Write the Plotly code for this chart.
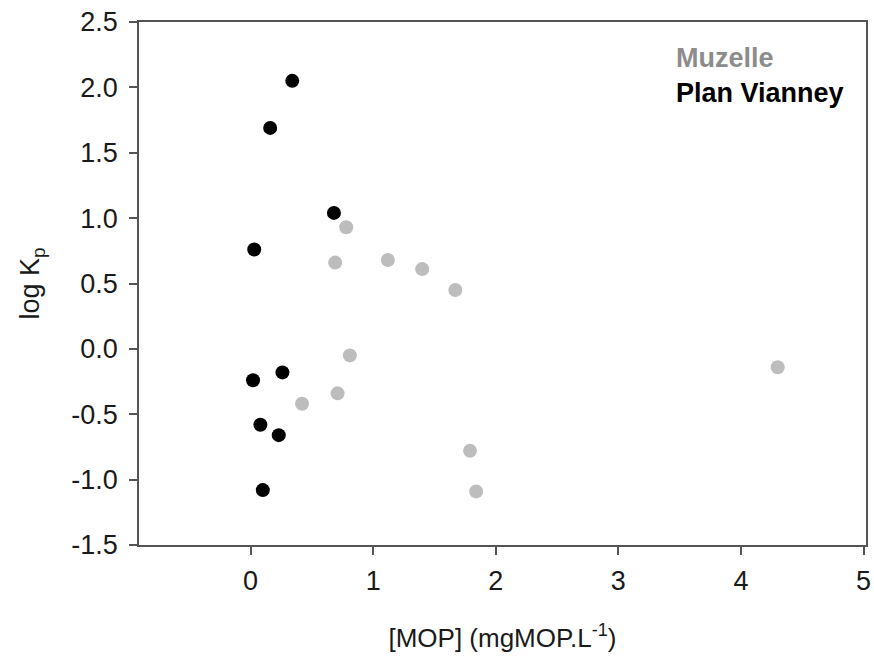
import plotly.graph_objects as go

# Plan Vianney (black)
pv_x = [0.34, 0.16, 0.68, 0.03, 0.26, 0.02, 0.08, 0.23, 0.10]
pv_y = [2.05, 1.69, 1.04, 0.76, -0.18, -0.24, -0.58, -0.66, -1.08]

# Muzelle (grey)
mz_x = [0.78, 0.69, 1.12, 1.40, 1.67, 0.81, 0.71, 0.42, 1.79, 1.84, 4.30]
mz_y = [0.93, 0.66, 0.68, 0.61, 0.45, -0.05, -0.34, -0.42, -0.78, -1.09, -0.14]

x_ticks = [0, 1, 2, 3, 4, 5]
y_ticks = [-1.5, -1.0, -0.5, 0.0, 0.5, 1.0, 1.5, 2.0, 2.5]
y_labels = ["-1.5", "-1.0", "-0.5", "0.0", "0.5", "1.0", "1.5", "2.0", "2.5"]

FONT = "Liberation Sans, Arial, sans-serif"
AXIS_COLOR = "#555555"
TXT = "#1a1a1a"

fig = go.Figure()

fig.add_trace(go.Scatter(
    x=mz_x, y=mz_y, mode="markers", name="Muzelle",
    marker=dict(size=14, color="#bdbdbd"),
))
fig.add_trace(go.Scatter(
    x=pv_x, y=pv_y, mode="markers", name="Plan Vianney",
    marker=dict(size=14, color="#000000"),
))

# legend as coloured text, top right inside the plot
fig.add_annotation(text="<b>Muzelle</b>", xref="paper", yref="paper",
                   x=0.736, y=0.932, xanchor="left", yanchor="middle",
                   showarrow=False, font=dict(size=27, color="#8c8c8c", family=FONT))
fig.add_annotation(text="<b>Plan Vianney</b>", xref="paper", yref="paper",
                   x=0.736, y=0.865, xanchor="left", yanchor="middle",
                   showarrow=False, font=dict(size=27, color="#000000", family=FONT))

fig.update_xaxes(
    range=[-0.91, 5.02], tickvals=x_ticks, ticks="outside", ticklen=8, tickwidth=1.5,
    tickcolor=AXIS_COLOR, showline=True, linecolor=AXIS_COLOR, linewidth=1.5,
    mirror=True, showgrid=False, zeroline=False, automargin=False,
    ticklabelstandoff=3, ticklabeloverflow="allow",
    tickfont=dict(size=27, color=TXT),
    title=dict(text="[MOP] (mgMOP.L<sup>-1</sup>)", font=dict(size=26, color=TXT), standoff=34),
)
fig.update_yaxes(
    range=[-1.5, 2.5], tickvals=y_ticks, ticktext=y_labels, ticks="outside", ticklen=8,
    tickwidth=1.5, tickcolor=AXIS_COLOR, showline=True, linecolor=AXIS_COLOR,
    linewidth=1.5, mirror=True, showgrid=False, zeroline=False, automargin=False,
    ticklabelstandoff=6, ticklabeloverflow="allow",
    tickfont=dict(size=27, color=TXT),
    title=dict(text="log K<sub>p</sub>", font=dict(size=27, color=TXT), standoff=24),
)

fig.update_layout(
    width=874, height=661,
    margin=dict(l=139, r=8, t=22, b=116),
    plot_bgcolor="white", paper_bgcolor="white",
    font=dict(family=FONT),
    showlegend=False,
)

# page body has a default 8px margin; drop it so the figure fills the window
fig.write_html("out.html", config={"displayModeBar": False},
               post_script="document.body.style.margin='0';")
